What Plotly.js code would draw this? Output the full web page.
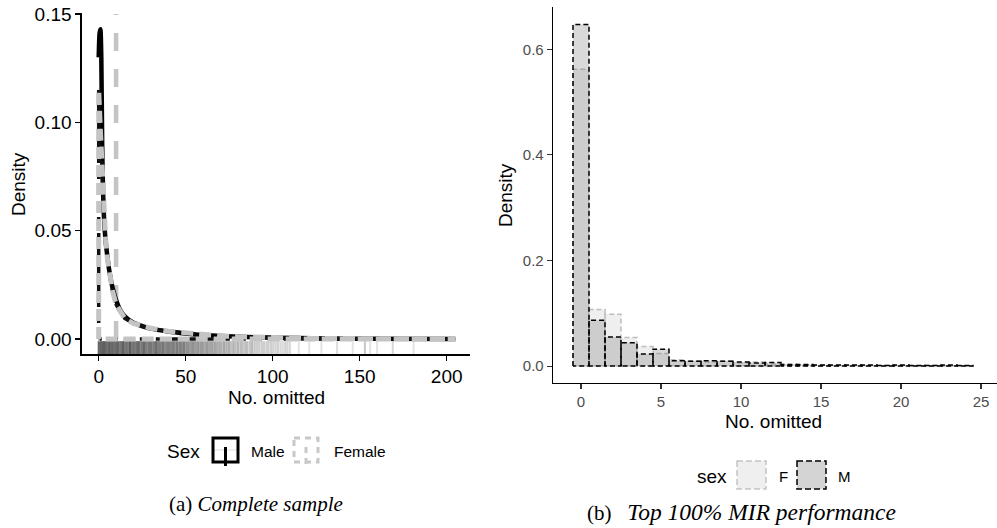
<!DOCTYPE html>
<html><head><meta charset="utf-8">
<script src="https://cdn.plot.ly/plotly-3.0.1.min.js"></script>
<style>html,body{margin:0;padding:0;background:#fff}#chart{width:997px;height:528px}</style>
</head><body><div id="chart"></div>
<script>
// ---------- Panel (a): Complete sample ----------
const maleX = [0, 0.5, 1, 1.5, 2, 2.5, 3, 4, 5, 6, 8, 10, 12, 15, 20, 25, 30, 40, 50, 60, 80, 100, 130, 160, 205];
const maleY = [0.130, 0.141, 0.143, 0.130, 0.090, 0.068, 0.057, 0.045, 0.038, 0.032, 0.0235, 0.018, 0.014, 0.0105, 0.0075, 0.006, 0.0048, 0.0035, 0.0026, 0.0019, 0.0011, 0.0006, 0.0003, 0.0001, 0.0];
const femaleX = [0, 1, 2, 3, 4, 5, 6, 8, 10, 12, 15, 20, 25, 30, 40, 50, 60, 70, 80, 90, 100, 120, 150, 205];
const femaleY = [0.115, 0.096, 0.075, 0.058, 0.046, 0.037, 0.031, 0.022, 0.016, 0.013, 0.0095, 0.0072, 0.0058, 0.005, 0.0036, 0.0028, 0.002, 0.0015, 0.0011, 0.0008, 0.0006, 0.0003, 0.0002, 0.0];
const femaleMeanX = 10;
const femaleMeanSpan = [0, 0.15];
const rugX = [0,1,2,3,4,5,6,7,8,9,10,11,12,13,14,15,16,17,18,19,20,21,22,23,24,25,26,27,28,29,30,31,32,33,34,35,36,37,38,39,40,41,42,43,44,45,46,47,48,49,50,51,52,53,54,55,56,57,58,59,60,61,62,63,64,65,66,67,68,69,70,71,72,73,74,75,76,77,78,79,80,81,82,83,84,85,86,87,88,89,90,91,92,93,94,95,96,97,98,99,100,101,102,103,104,105,106,107,108,109,110,115,121,128,137,146,153,156,160,169,181];
const rugAlpha = [0.7,0.7,0.7,0.7,0.7,0.65,0.7,0.65,0.7,0.65,
  0.65,0.7,0.6,0.65,0.7,0.6,0.65,0.6,0.7,0.6,
  0.65,0.6,0.6,0.7,0.55,0.6,0.65,0.6,0.55,0.6,
  0.6,0.55,0.6,0.65,0.55,0.6,0.55,0.6,0.5,0.55,
  0.6,0.5,0.55,0.6,0.5,0.55,0.5,0.6,0.5,0.55,
  0.45,0.5,0.45,0.4,0.5,0.45,0.4,0.45,0.4,0.45,
  0.4,0.35,0.45,0.4,0.35,0.4,0.35,0.4,0.3,0.35,
  0.35,0.3,0.35,0.3,0.3,0.35,0.22,0.3,0.3,0.22,
  0.3,0.22,0.3,0.22,0.22,0.3,0.18,0.22,0.3,0.18,
  0.22,0.18,0.22,0.15,0.22,0.18,0.15,0.22,0.15,0.18,
  0.18,0.15,0.15,0.18,0.12,0.15,0.12,0.15,0.18,0.12,0.15,
  0.12,0.12,0.12,0.15,0.12,0.25,0.12,0.12,0.18,0.12];
const ticksAx = [0, 50, 100, 150, 200];
const ticksAy = [0, 0.05, 0.10, 0.15];
const legendA = ['Male', 'Female'];

// ---------- Panel (b): Top 100% MIR performance ----------
const binCenters = [0,1,2,3,4,5,6,7,8,9,10,11,12,13,14,15,16,17,18,19,20,21,22,23,24];
const densF = [0.562,0.107,0.098,0.054,0.037,0.024,0.012,0.010,0.008,0.010,0.006,0.008,0.004,0.003,0.002,0.002,0.001,0.001,0.001,0.001,0.001,0.0,0.001,0.0,0.0];
const densM = [0.647,0.087,0.055,0.044,0.023,0.032,0.010,0.009,0.010,0.009,0.008,0.006,0.007,0.003,0.003,0.002,0.002,0.002,0.002,0.001,0.002,0.001,0.001,0.002,0.001];
const ticksBx = [0, 5, 10, 15, 20, 25];
const ticksBy = [0, 0.2, 0.4, 0.6];
const legendB = ['F', 'M'];

// ---------- helpers ----------
const W = 997, H = 528;
const px = v => v / W;
const py = v => 1 - v / H;

function outline(xs, ys) { // closed density outline incl. baseline
  const x = [xs[0]].concat(xs, [xs[xs.length - 1], xs[0]]);
  const y = [0].concat(ys, [0, 0]);
  return {x, y};
}
function bars(c, h) {
  const x = [], y = [];
  for (let i = 0; i < c.length; i++) {
    x.push(c[i] - 0.5, c[i] - 0.5, c[i] + 0.5, c[i] + 0.5, c[i] - 0.5, null);
    y.push(0, h[i], h[i], 0, 0, null);
  }
  return {x, y};
}

const fo = outline(femaleX, femaleY);
const bF = bars(binCenters, densF);
const bM = bars(binCenters, densM);

const traces = [
  {x: rugX, y: rugX.map(() => -0.0042), xaxis: 'x', yaxis: 'y', mode: 'markers', type: 'scatter',
   marker: {symbol: 'line-ns', size: 10, opacity: rugAlpha, color: 'rgb(40,40,40)', line: {color: 'rgb(40,40,40)', width: 2}},
   showlegend: false, hoverinfo: 'skip'},
  {x: [femaleMeanX, femaleMeanX], y: femaleMeanSpan, xaxis: 'x', yaxis: 'y', mode: 'lines', type: 'scatter',
   line: {color: '#c4c4c4', width: 4.5, dash: '18px,18px'}, showlegend: false},
  {x: maleX, y: maleY, xaxis: 'x', yaxis: 'y', mode: 'lines', type: 'scatter', name: legendA[0],
   line: {color: '#000', width: 4.5, shape: 'spline', smoothing: 0.6}, showlegend: false},
  {x: fo.x, y: fo.y, xaxis: 'x', yaxis: 'y', mode: 'lines', type: 'scatter',
   line: {color: '#111', width: 3.5, dash: '10px,6px'}, showlegend: false},
  {x: fo.x, y: fo.y, xaxis: 'x', yaxis: 'y', mode: 'lines', type: 'scatter', name: legendA[1],
   line: {color: '#c4c4c4', width: 5, dash: '12px,6px'}, showlegend: false},
  {x: bF.x, y: bF.y, xaxis: 'x2', yaxis: 'y2', mode: 'lines', type: 'scatter', fill: 'toself', name: legendB[0],
   fillcolor: 'rgba(191,191,191,0.25)', line: {color: '#bdbdbd', width: 1.5, dash: '5px,3px'}, showlegend: false},
  {x: bM.x, y: bM.y, xaxis: 'x2', yaxis: 'y2', mode: 'lines', type: 'scatter', fill: 'toself', name: legendB[1],
   fillcolor: 'rgba(103,103,103,0.25)', line: {color: '#000', width: 1.5, dash: '5px,3px'}, showlegend: false}
];

const sans = 'Liberation Sans, Arial, sans-serif';
const serif = 'Liberation Serif, Times New Roman, serif';

const axA = {showgrid: false, zeroline: false, showline: true, linecolor: '#000', linewidth: 1.6,
  ticks: 'outside', ticklen: 5, tickwidth: 1.3, tickcolor: '#000',
  tickfont: {family: sans, size: 19, color: '#000'}};
const axB = {showgrid: false, zeroline: false, showline: true, linecolor: '#000', linewidth: 1.3,
  ticks: 'outside', ticklen: 5, tickwidth: 1.2, tickcolor: '#333',
  tickfont: {family: sans, size: 15, color: '#4d4d4d'}};

function ann(text, x, y, size, opts) {
  return Object.assign({text, x: px(x), y: py(y), xref: 'paper', yref: 'paper', xanchor: 'center', yanchor: 'middle',
    showarrow: false, font: {family: sans, size, color: '#000'}}, opts || {});
}

const layout = {
  width: W, height: H, margin: {l: 0, r: 0, t: 0, b: 0},
  paper_bgcolor: '#fff', plot_bgcolor: 'rgba(0,0,0,0)', showlegend: false,
  xaxis: Object.assign({}, axA, {domain: [px(82), px(470)], range: [-9.6, 213.4], tickvals: ticksAx, anchor: 'y'}),
  yaxis: Object.assign({}, axA, {domain: [py(354), py(13)], range: [-0.0069, 0.1505], tickvals: ticksAy, tickformat: '.2f', anchor: 'x'}),
  xaxis2: Object.assign({}, axB, {domain: [px(553), 1], range: [-1.75, 26], tickvals: ticksBx, anchor: 'y2'}),
  yaxis2: Object.assign({}, axB, {domain: [py(383), py(7)], range: [-0.032, 0.68], tickvals: ticksBy, tickformat: '.1f', anchor: 'x2'}),
  annotations: [
    ann('Density', 18, 184, 19, {textangle: -90}),
    ann('No. omitted', 276, 397, 19),
    ann('Density', 505, 195, 19, {textangle: -90}),
    ann('No. omitted', 773, 421, 19),
    ann('Sex', 183.5, 451, 19),
    ann(legendA[0], 249, 451, 15.5, {xanchor: 'left'}),
    ann(legendA[1], 332, 451, 15.5, {xanchor: 'left'}),
    ann('sex', 712, 476, 19),
    ann(legendB[0], 777, 476, 15, {xanchor: 'left'}),
    ann(legendB[1], 836, 476, 15, {xanchor: 'left'}),
    Object.assign(ann('(a) <i>Complete sample</i>', 256, 504, 21), {font: {family: serif, size: 21, color: '#000'}}),
    Object.assign(ann('(b)&nbsp;&nbsp; <i><span style="font-size:23.5px">Top 100% MIR performance</span></i>', 741, 512, 21), {font: {family: serif, size: 21, color: '#000'}})
  ],
  shapes: [
    {type: 'line', xref: 'paper', yref: 'paper', x0: px(212), x1: px(239), y0: py(450), y1: py(450), line: {color: '#dddddd', width: 1}},
    {type: 'rect', xref: 'paper', yref: 'paper', x0: px(213), x1: px(238), y0: py(438), y1: py(462), line: {color: '#000', width: 3}},
    {type: 'line', xref: 'paper', yref: 'paper', x0: px(225.5), x1: px(225.5), y0: py(447), y1: py(466), line: {color: '#000', width: 3}},
    {type: 'rect', xref: 'paper', yref: 'paper', x0: px(294), x1: px(318), y0: py(438), y1: py(462), line: {color: '#c8c8c8', width: 3, dash: '6px,5px'}},
    {type: 'line', xref: 'paper', yref: 'paper', x0: px(306), x1: px(306), y0: py(447), y1: py(466), line: {color: '#c8c8c8', width: 3, dash: '6px,5px'}},
    {type: 'rect', xref: 'paper', yref: 'paper', x0: px(737), x1: px(766), y0: py(461), y1: py(489), fillcolor: '#efefef', line: {color: '#c4c4c4', width: 1.5, dash: '6px,3px'}},
    {type: 'rect', xref: 'paper', yref: 'paper', x0: px(797), x1: px(826), y0: py(461), y1: py(489), fillcolor: '#d4d4d4', line: {color: '#000', width: 1.5, dash: '6px,3px'}}
  ]
};

Plotly.newPlot('chart', traces, layout, {displayModeBar: false, staticPlot: true});
</script>
</body></html>
